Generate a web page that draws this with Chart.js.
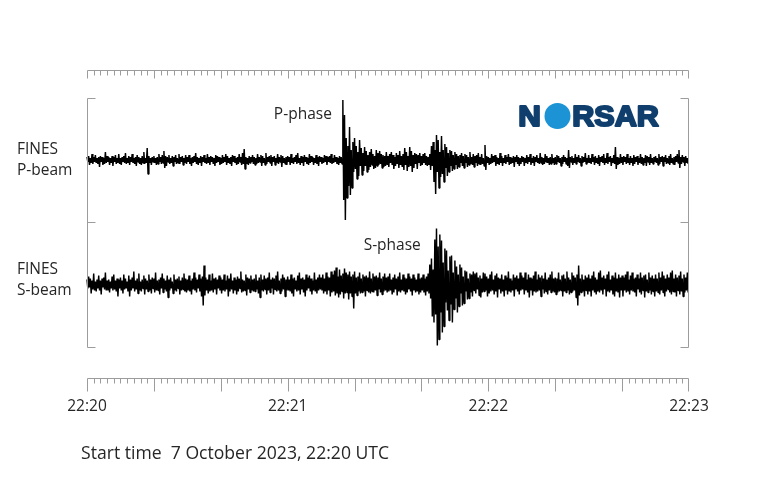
<!DOCTYPE html>
<html><head><meta charset="utf-8">
<script src="https://cdn.jsdelivr.net/npm/chart.js@4.4.1/dist/chart.umd.min.js"></script>
<style>html,body{margin:0;padding:0;background:#fff}#wrap{position:relative;width:764px;height:478px}</style>
</head><body><div id="wrap"><canvas id="c"></canvas></div>
<script>
// ---- data ----
const traceNames = [['FINES','P-beam'],['FINES','S-beam']];
const phaseLabels = ['P-phase','S-phase'];
const phaseArrivals = [76.5, 102.5];           // seconds after start
const timeTickLabels = ['22:20','22:21','22:22','22:23'];
const timeTickSeconds = [0,60,120,180];
const startTimeText = 'Start time  7 October 2023, 22:20 UTC';
const totalSeconds = 180;
const sampleInterval = 0.25;                   // seconds between samples
const minorTickStep = 2, majorTickStep = 20;
const traceHalfRange = 62;                     // amplitude half-range of each trace panel

// P-beam samples (amplitude, arbitrary units), 0.25 s apart, one row = 10 s
const pBeam = [
 3,-2,4,-5,2,-3,6,-4,3,-2, 5,-3,2,-4,3,-7,4,-2,3,-5, 2,-4,8,-3,4,-2,3,-5,2,-3, 4,-6,3,-2,5,-4,2,-3,6,-4,
 2,-5,3,-2,4,-3,7,-4,2,-3, 4,-5,3,-2,6,-3,2,-4,3,-6, 5,-2,3,-4,2,-5,4,-3,8,-4, 2,-3,12,-14,4,-3,2,-5,3,-2,
 4,-3,2,-5,3,-4,6,-2,3,-4, 5,-3,9,-8,4,-6,3,-2,5,-4, 2,-3,4,-6,3,-2,5,-4,2,-3, 6,-4,3,-2,4,-5,2,-3,5,-4,
 3,-2,5,-4,2,-6,3,-3,4,-2, 7,-4,3,-5,2,-3,4,-6,3,-2, 5,-3,2,-4,6,-3,3,-5,4,-2, 3,-4,2,-6,5,-3,4,-2,3,-5,
 2,-4,5,-3,3,-2,6,-5,4,-3, 2,-4,3,-6,5,-2,4,-3,2,-5, 3,-4,6,-2,3,-5,7,-4,11,-9, 3,-4,2,-5,4,-3,3,-2,5,-4,
 3,-5,2,-4,6,-3,3,-2,5,-6, 4,-3,2,-5,7,-4,3,-2,4,-3, 5,-6,3,-2,4,-5,2,-3,6,-4, 3,-2,5,-7,4,-3,2,-4,3,-5,
 4,-2,3,-5,6,-3,2,-4,3,-2, 5,-4,7,-3,2,-5,4,-3,3,-6, 5,-2,3,-4,2,-5,6,-3,4,-2, 3,-5,2,-3,5,-4,3,-6,4,-2,
 3,-4,2,-3,5,-2,4,-5,3,-2, 4,-3,6,-4,2,-3,5,-2,3,-4, 2,-5,4,-3,3,-4,60,-40,45,-60, 22,-38,14,-26,33,-35,10,-28,18,-12,
 22,-9,14,-19,8,-16,20,-6,12,-15, 7,-11,13,-6,9,-12,5,-10,8,-7, 11,-5,6,-9,4,-8,10,-6,7,-5, 9,-4,6,-8,5,-7,4,-6,8,-5,
 4,-7,6,-3,8,-5,5,-9,3,-6, 7,-4,5,-8,9,-5,4,-7,6,-10, 12,-5,8,-11,4,-7,13,-6,9,-12, 5,-8,7,-4,6,-9,5,-3,7,-6,
 4,-5,6,-3,7,-5,4,-6,3,-5, 6,-10,14,-6,18,-22,10,-34,25,-12, 20,-28,8,-17,24,-14,10,-22,16,-8, 13,-16,7,-12,10,-6,9,-11,5,-9,
 8,-5,6,-9,4,-7,5,-3,7,-6, 4,-8,6,-3,5,-7,3,-5,8,-4, 3,-5,6,-7,4,-3,5,-6,7,-4, 3,-5,6,-4,2,-6,15,-10,4,-3,
 3,-5,2,-4,6,-3,4,-2,5,-6, 3,-4,2,-5,7,-3,4,-6,2,-3, 5,-4,3,-2,6,-5,3,-4,2,-3, 4,-7,3,-2,5,-4,3,-6,2,-4,
 4,-2,3,-6,2,-3,5,-4,3,-2, 6,-5,2,-3,4,-6,3,-2,5,-3, 2,-4,7,-3,3,-5,2,-4,6,-2, 4,-3,2,-5,3,-4,6,-3,2,-5,
 3,-4,5,-2,4,-3,2,-6,3,-4, 5,-2,3,-4,2,-6,10,-8,3,-2, 4,-5,2,-3,6,-4,3,-2,5,-3, 2,-6,4,-3,3,-2,7,-4,2,-3,
 5,-3,2,-4,6,-2,3,-5,4,-3, 2,-4,5,-6,3,-2,4,-3,6,-5, 2,-3,7,-4,3,-2,4,-6,2,-3, 5,-4,13,-9,3,-5,2,-4,6,-3,
 3,-5,4,-2,3,-4,6,-3,2,-5, 4,-3,2,-6,5,-4,3,-2,4,-5, 2,-3,6,-4,3,-5,2,-3,5,-6, 4,-2,3,-5,6,-3,2,-4,3,-2,
 4,-3,2,-5,6,-4,3,-2,4,-6, 3,-2,5,-4,2,-3,4,-5,6,-3, 2,-4,3,-5,4,-2,6,-3,10,-8, 3,-4,5,-2,3,-6,4,-3,2,-4
];

// S-beam samples (amplitude, arbitrary units), 0.25 s apart, one row = 10 s
const sBeam = [
 5,-4,8,-3,6,-9,4,-5,11,-6, 3,-7,5,-4,9,-6,4,-10,6,-3, 7,-5,12,-6,4,-6,5,-8,3,-4, 8,-6,10,-5,4,-7,6,-12,5,-4,
 7,-6,4,-9,10,-5,6,-4,3,-7, 9,-12,5,-6,7,-4,13,-7,4,-5, 6,-9,11,-6,3,-7,5,-4,9,-10, 6,-5,4,-7,10,-6,5,-9,7,-4,
 6,-8,12,-6,4,-6,5,-10,7,-4, 11,-8,6,-5,4,-7,9,-13,5,-6, 7,-4,3,-9,10,-6,5,-7,6,-4, 8,-10,4,-6,7,-5,11,-7,6,-8,
 5,-6,9,-7,4,-10,6,-5,12,-6, 7,-8,5,-4,10,-7,6,-12,8,-21, 19,-11,7,-6,5,-9,10,-7,4,-6, 11,-8,6,-5,7,-10,5,-4,9,-6,
 7,-9,5,-6,10,-7,4,-5,9,-12, 6,-7,11,-5,4,-9,7,-6,5,-10, 8,-7,6,-4,13,-8,5,-7,4,-6, 10,-11,7,-5,6,-8,9,-6,5,-7,
 6,-7,10,-5,4,-9,7,-13,10,-6, 5,-7,9,-5,6,-10,7,-6,12,-8, 5,-4,7,-10,6,-5,9,-7,13,-6, 4,-9,6,-7,10,-5,7,-12,5,-6,
 8,-6,5,-7,10,-9,6,-12,7,-5, 4,-7,9,-6,12,-10,6,-5,7,-8, 5,-12,10,-6,7,-4,9,-7,6,-10, 4,-6,12,-7,5,-9,7,-6,10,-5,
 7,-6,10,-9,6,-7,12,-10,8,-6, 7,-12,13,-8,10,-7,14,-11,17,-9, 8,-13,15,-10,9,-7,11,-14,16,-9, 12,-8,10,-15,13,-9,8,-12,10,-24,
 13,-9,7,-11,8,-7,12,-9,6,-8, 10,-7,8,-12,9,-6,7,-8,13,-9, 6,-7,11,-8,8,-6,9,-11,7,-5, 12,-8,6,-10,8,-7,11,-6,7,-8,
 8,-7,11,-6,5,-10,7,-8,10,-5, 6,-11,8,-7,12,-8,5,-6,10,-7, 7,-10,6,-8,11,-5,8,-7,6,-11, 10,-6,7,-8,5,-7,11,-10,6,-8,
 7,-6,10,-8,6,-11,8,-7,11,-9, 20,-14,26,-32,15,-38,45,-30,56,-61, 38,-55,50,-28,44,-48,22,-42,36,-18, 34,-26,14,-36,28,-20,29,-38,12,-25,
 24,-14,18,-28,10,-22,20,-9,17,-21, 8,-19,14,-7,13,-15,6,-14,11,-8, 10,-12,13,-6,11,-9,12,-5,7,-11, 9,-13,6,-8,12,-7,11,-6,8,-12,
 6,-9,10,-7,13,-6,5,-10,9,-7, 11,-13,7,-5,6,-9,10,-7,5,-12, 9,-6,7,-10,13,-7,6,-8,4,-6, 10,-12,7,-5,9,-7,6,-10,12,-6,
 9,-5,7,-10,12,-6,5,-8,10,-13, 7,-6,6,-11,9,-7,13,-8,5,-7, 10,-6,7,-12,9,-5,6,-9,12,-7, 5,-10,7,-6,10,-8,13,-7,6,-8,
 7,-10,6,-8,12,-7,5,-6,9,-12, 10,-7,6,-8,13,-6,7,-10,5,-8, 12,-7,9,-6,7,-13,10,-21,19,-11, 6,-8,10,-7,5,-12,9,-6,7,-10,
 10,-7,6,-12,9,-6,13,-8,7,-10, 5,-7,12,-8,14,-6,7,-10,9,-5, 6,-12,10,-7,13,-8,5,-6,9,-10, 7,-12,12,-7,6,-8,10,-13,7,-6,
 9,-12,7,-6,10,-8,13,-7,5,-10, 9,-6,12,-7,6,-8,7,-12,10,-5, 6,-8,12,-10,7,-6,9,-13,10,-7, 5,-8,12,-6,7,-10,9,-7,6,-12,
 10,-7,6,-8,12,-10,7,-6,13,-8, 9,-12,6,-7,10,-5,7,-8,12,-10, 14,-7,6,-8,10,-12,7,-6,9,-10, 13,-7,6,-12,10,-8,7,-6,12,-8
];

// ---- drawing helpers ----
const TEXT = '#262626', AXIS = '#9c9c9c', FONT = '"Open Sans"';

const framePlugin = {
  id: 'seisFrame',
  afterDraw(chart) {
    const {ctx, chartArea: a} = chart;
    const sx = chart.scales.x, yP = chart.scales.yP, yS = chart.scales.yS;
    const seg = (x1, y1, x2, y2) => { ctx.beginPath(); ctx.moveTo(x1, y1); ctx.lineTo(x2, y2); ctx.stroke(); };
    ctx.save();
    ctx.strokeStyle = AXIS; ctx.lineWidth = 1;
    const x0 = Math.round(sx.getPixelForValue(0)) + 0.5;
    const x1 = Math.round(sx.getPixelForValue(totalSeconds)) - 0.5;
    const yT = Math.round(a.top) + 0.5, yB = Math.round(a.bottom) + 0.5;
    seg(x0, yT, x1, yT); seg(x0, yB, x1, yB);
    for (let s = 0; s <= totalSeconds; s += minorTickStep) {
      let px = Math.round(sx.getPixelForValue(s)) + 0.5;
      if (s === totalSeconds) px = x1;
      const major = s % majorTickStep === 0;
      seg(px, yT, px, yT + (major ? 8 : 5));
      seg(px, yB, px, yB + (major ? 13 : 5));
    }
    // trace panel frames
    const fT = Math.round(yP.getPixelForValue(traceHalfRange)) + 0.5;
    const fM = Math.round(yP.getPixelForValue(-traceHalfRange)) + 0.5;
    const fB = Math.round(yS.getPixelForValue(-traceHalfRange)) + 0.5;
    seg(x0, fT, x0, fB); seg(x1, fT, x1, fB);
    [fT, fM, fB].forEach(y => { seg(x0, y, x0 + 8, y); seg(x1, y, x1 - 8, y); });

    // texts
    ctx.fillStyle = TEXT;
    ctx.textBaseline = 'alphabetic';
    ctx.font = '15.5px ' + FONT;
    ctx.textAlign = 'center';
    timeTickSeconds.forEach((s, i) => ctx.fillText(timeTickLabels[i], sx.getPixelForValue(s), a.bottom + 33));
    ctx.textAlign = 'left';
    const p0 = yP.getPixelForValue(0), s0 = yS.getPixelForValue(0);
    ctx.fillText(traceNames[0][0], 17, p0 - 6);
    ctx.fillText(traceNames[0][1], 17, p0 + 15);
    ctx.fillText(traceNames[1][0], 17, s0 - 11);
    ctx.fillText(traceNames[1][1], 17, s0 + 10);
    ctx.textAlign = 'right';
    ctx.fillText(phaseLabels[0], sx.getPixelForValue(phaseArrivals[0]) - 11, p0 - 41);
    ctx.fillText(phaseLabels[1], sx.getPixelForValue(phaseArrivals[1]) - 9, s0 - 35);
    ctx.textAlign = 'left';
    ctx.font = '17.6px ' + FONT;
    ctx.fillText(startTimeText, 81, 459);

    // NORSAR logo
    const navy = '#103f6e', blue = '#1b93d4';
    const capH = 24, fs = capH / 0.716, base = 127;
    ctx.font = 'bold ' + fs + 'px "Liberation Sans"';
    ctx.fillStyle = navy; ctx.strokeStyle = navy; ctx.lineWidth = 2.4; ctx.lineJoin = 'round';
    const drawFit = (str, left, width) => {
      const w = ctx.measureText(str).width;
      ctx.save(); ctx.translate(left + 1.2, base - 1.2); ctx.scale((width - 2.4) / w, (capH - 2.4) / capH);
      ctx.fillText(str, 0, 0); ctx.strokeText(str, 0, 0); ctx.restore();
    };
    drawFit('N', 517, 25);
    drawFit('RSAR', 571, 89);
    ctx.fillStyle = blue;
    ctx.beginPath(); ctx.arc(557.5, 116, 13, 0, Math.PI * 2); ctx.fill();
    ctx.restore();
  }
};

const toPoints = arr => arr.map((v, i) => ({x: i * sampleInterval, y: v}));

new Chart(document.getElementById('c'), {
  type: 'line',
  data: {
    datasets: [
      {label: traceNames[0].join(' '), data: toPoints(pBeam), yAxisID: 'yP', borderColor: '#000', borderWidth: 1.45,
       pointRadius: 0, tension: 0, fill: false, clip: false, borderJoinStyle: 'bevel'},
      {label: traceNames[1].join(' '), data: toPoints(sBeam), yAxisID: 'yS', borderColor: '#000', borderWidth: 1.45,
       pointRadius: 0, tension: 0, fill: false, clip: false, borderJoinStyle: 'bevel'}
    ]
  },
  options: {
    responsive: true, maintainAspectRatio: false, animation: false, events: [],
    layout: {padding: {left: 87, right: 75, top: 70, bottom: 100}},
    plugins: {legend: {display: false}, tooltip: {enabled: false}},
    scales: {
      x: {type: 'linear', min: 0, max: totalSeconds, display: false},
      yP: {type: 'linear', min: -218, max: 90, display: false},
      yS: {type: 'linear', min: -93.5, max: 214.5, display: false}
    }
  },
  plugins: [framePlugin]
});
</script>
</body></html>
